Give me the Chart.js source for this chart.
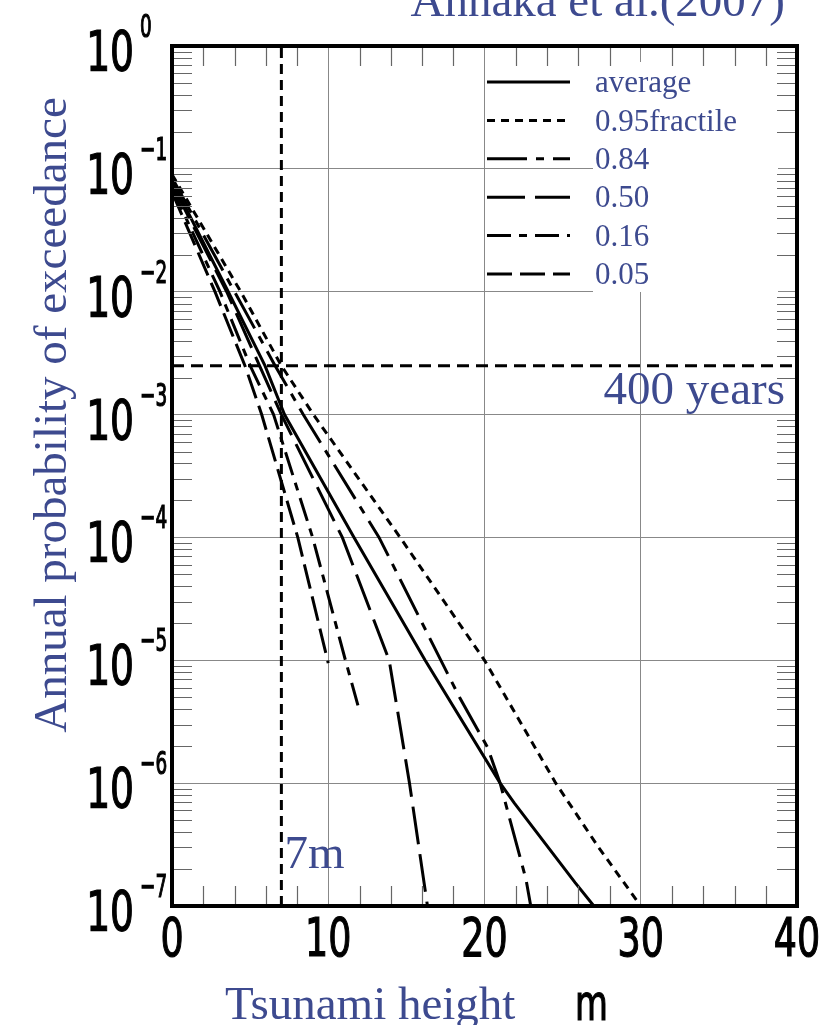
<!DOCTYPE html>
<html>
<head>
<meta charset="utf-8">
<script src="https://cdn.jsdelivr.net/npm/chart.js@4.4.0/dist/chart.umd.min.js"></script>
<style>
  html, body { margin: 0; padding: 0; background: #fff; }
  canvas { display: block; }
</style>
</head>
<body>
<canvas id="hazard" width="837" height="1025"></canvas>
<script>
// Tsunami hazard curves - Annaka et al.(2007)

// Tsunami height (m) and annual probability of exceedance
const meanH = [0, 3.6, 5.95, 7.2, 11.65, 16.2, 21.0, 21.9, 25.8, 27.0];
const meanP = [0.08, 1e-2, 2.5e-3, 1e-3, 1e-4, 1e-5, 1e-6, 6.9e-7, 1.55e-7, 1e-7];

const p95H = [0, 4.4, 7.0, 9.05, 14.6, 20.0, 24.56, 27.3, 30.0];
const p95P = [0.09, 1e-2, 2.5e-3, 1e-3, 1e-4, 1e-5, 1e-6, 3e-7, 1e-7];

const p84H = [0, 4.0, 6.6, 8.4, 13.25, 18.4, 20.2, 21.0, 22.65, 22.96];
const p84P = [0.085, 1e-2, 2.5e-3, 1e-3, 1e-4, 5e-6, 1.95e-6, 1e-6, 1.66e-7, 1e-7];

const p50H = [0, 3.5, 5.6, 7.0, 10.9, 13.9, 15.2, 16.35];
const p50P = [0.075, 1e-2, 2.5e-3, 1e-3, 1e-4, 1e-5, 1e-6, 1e-7];

const p16H = [0, 3.07, 5.0, 6.5, 9.0, 11.1, 11.9];
const p16P = [0.07, 1e-2, 2.5e-3, 1e-3, 1e-4, 1e-5, 4.3e-6];

const p05H = [0, 2.75, 4.67, 5.74, 8.05, 10.0];
const p05P = [0.065, 1e-2, 2.5e-3, 1e-3, 1e-4, 9.5e-6];

const seriesNames = ['average', '0.95fractile', '0.84', '0.50', '0.16', '0.05'];
const xTicks = [0, 10, 20, 30, 40];
const yExponents = [0, -1, -2, -3, -4, -5, -6, -7];
const returnPeriod = 400;   // years
const markHeight = 7;       // m

// styles
const blue = '#3d4a8f';
const serif = '"Liberation Serif", "Times New Roman", serif';
const sans = '"DejaVu Sans Condensed", "DejaVu Sans", sans-serif';
const dashes = [[], [8, 6], [40, 9, 8, 9], [38, 10], [24, 8, 8, 8], [25, 8]];

function toPoints(hs, ps) {
    return hs.map((h, i) => ({ x: h, y: ps[i] }));
}

const curves = [
    toPoints(meanH, meanP),
    toPoints(p95H, p95P),
    toPoints(p84H, p84P),
    toPoints(p50H, p50P),
    toPoints(p16H, p16P),
    toPoints(p05H, p05P)
];

const datasets = curves.map((pts, i) => ({
    label: seriesNames[i],
    data: pts,
    borderColor: '#000',
    borderWidth: 3,
    borderDash: dashes[i],
    pointRadius: 0,
    fill: false,
    tension: 0
}));

// 7m line and 1/400 line
datasets.push({
    label: '7m',
    data: [{ x: markHeight, y: 1e-7 }, { x: markHeight, y: 1 }],
    borderColor: '#000', borderWidth: 3, borderDash: [10, 6], pointRadius: 0
});
datasets.push({
    label: '400 years',
    data: [{ x: 0, y: 1 / returnPeriod }, { x: 40, y: 1 / returnPeriod }],
    borderColor: '#000', borderWidth: 3, borderDash: [12, 7], pointRadius: 0
});

const legendBox = { x: 593, y: 62, w: 185, h: 230 };

// tall narrow sans text (tick numbers)
function narrowText(ctx, text, x, baseline, size, align, sx) {
    ctx.save();
    ctx.font = size + 'px ' + sans;
    ctx.textAlign = 'left';
    ctx.textBaseline = 'alphabetic';
    const w = ctx.measureText(text).width * sx;
    const left = align === 'right' ? x - w : align === 'center' ? x - w / 2 : x;
    ctx.translate(left, baseline);
    ctx.scale(sx, 1);
    ctx.fillText(text, 0, 0);
    ctx.strokeStyle = ctx.fillStyle;
    ctx.lineWidth = 1.2;
    ctx.strokeText(text, 0, 0);
    ctx.restore();
}

const decor = {
    id: 'decor',
    beforeDatasetsDraw(chart) {
        const ctx = chart.ctx;
        ctx.save();
        ctx.fillStyle = '#fff';
        ctx.fillRect(legendBox.x, legendBox.y, legendBox.w, legendBox.h);
        ctx.restore();
    },
    afterDraw(chart) {
        const ctx = chart.ctx;
        const area = chart.chartArea;
        const xs = chart.scales.x;
        const ys = chart.scales.y;
        ctx.save();

        // minor ticks
        ctx.strokeStyle = '#666';
        ctx.lineWidth = 1.2;
        ctx.beginPath();
        for (let v = 2; v < 40; v += 2) {
            if (v % 10 === 0) continue;
            const px = Math.round(xs.getPixelForValue(v)) + 0.5;
            ctx.moveTo(px, area.bottom); ctx.lineTo(px, area.bottom - 20);
            ctx.moveTo(px, area.top); ctx.lineTo(px, area.top + 20);
        }
        for (let e = -7; e < 0; e++) {
            for (let m = 2; m <= 9; m++) {
                const py = Math.round(ys.getPixelForValue(m * Math.pow(10, e))) + 0.5;
                ctx.moveTo(area.left, py); ctx.lineTo(area.left + 20, py);
                ctx.moveTo(area.right, py); ctx.lineTo(area.right - 20, py);
            }
        }
        ctx.stroke();

        // frame
        ctx.strokeStyle = '#000';
        ctx.lineWidth = 4;
        ctx.strokeRect(area.left, area.top, area.right - area.left, area.bottom - area.top);

        // tick labels
        ctx.fillStyle = '#000';
        xTicks.forEach(v => {
            narrowText(ctx, String(v), xs.getPixelForValue(v), 956, 54, 'center', 0.75);
        });
        yExponents.forEach(e => {
            const py = ys.getPixelForValue(Math.pow(10, e));
            narrowText(ctx, '10', 134, py + 24, 55, 'right', 0.76);
            narrowText(ctx, e === 0 ? '0' : '\u2212' + Math.abs(e), 140, py - 9, 32, 'left', 0.64);
        });

        // axis titles
        ctx.fillStyle = blue;
        ctx.font = '47px ' + serif;
        ctx.textBaseline = 'alphabetic';
        ctx.save();
        ctx.translate(66, 415);
        ctx.rotate(-Math.PI / 2);
        ctx.textAlign = 'center';
        ctx.fillText('Annual probability of exceedance', 0, 0);
        ctx.restore();

        ctx.textAlign = 'left';
        ctx.fillText('Tsunami height', 225, 1019);
        ctx.fillStyle = '#000';
        narrowText(ctx, 'm', 575, 1020, 50, 'left', 0.75);

        // title (cut by the top edge)
        ctx.fillStyle = blue;
        ctx.font = '47px ' + serif;
        ctx.textAlign = 'right';
        ctx.fillText('Annaka et al.(2007)', 785, 16);

        // annotations
        ctx.textAlign = 'right';
        ctx.fillText(returnPeriod + ' years', 785, ys.getPixelForValue(1 / returnPeriod) + 38);
        ctx.textAlign = 'left';
        ctx.fillText(markHeight + 'm', xs.getPixelForValue(markHeight) + 3, 868);

        // legend
        seriesNames.forEach((name, i) => {
            const ly = 82 + i * 38.4;
            ctx.strokeStyle = '#000';
            ctx.lineWidth = 3;
            ctx.setLineDash(dashes[i]);
            ctx.beginPath();
            ctx.moveTo(487, ly);
            ctx.lineTo(570, ly);
            ctx.stroke();
            ctx.setLineDash([]);
            ctx.fillStyle = blue;
            ctx.font = '31px ' + serif;
            ctx.textAlign = 'left';
            ctx.textBaseline = 'middle';
            ctx.fillText(name, 595, ly + 2);
        });

        ctx.restore();
    }
};

new Chart(document.getElementById('hazard'), {
    type: 'line',
    data: { datasets: datasets },
    options: {
        responsive: false,
        animation: false,
        devicePixelRatio: 1,
        layout: { padding: { top: 46, right: 40, left: 0, bottom: 0 } },
        plugins: {
            legend: { display: false },
            tooltip: { enabled: false }
        },
        scales: {
            x: {
                type: 'linear',
                min: 0,
                max: 40,
                afterBuildTicks: s => { s.ticks = xTicks.map(v => ({ value: v })); },
                afterFit: s => { s.height = 1025 - 906; },
                ticks: { display: false },
                grid: { color: '#888', lineWidth: 1, drawTicks: false },
                border: { display: false }
            },
            y: {
                type: 'logarithmic',
                min: 1e-7,
                max: 1,
                afterBuildTicks: s => { s.ticks = yExponents.map(e => ({ value: Math.pow(10, e) })); },
                afterFit: s => { s.width = 172; },
                ticks: { display: false },
                grid: { color: '#888', lineWidth: 1, drawTicks: false },
                border: { display: false }
            }
        }
    },
    plugins: [decor]
});
</script>
</body>
</html>
